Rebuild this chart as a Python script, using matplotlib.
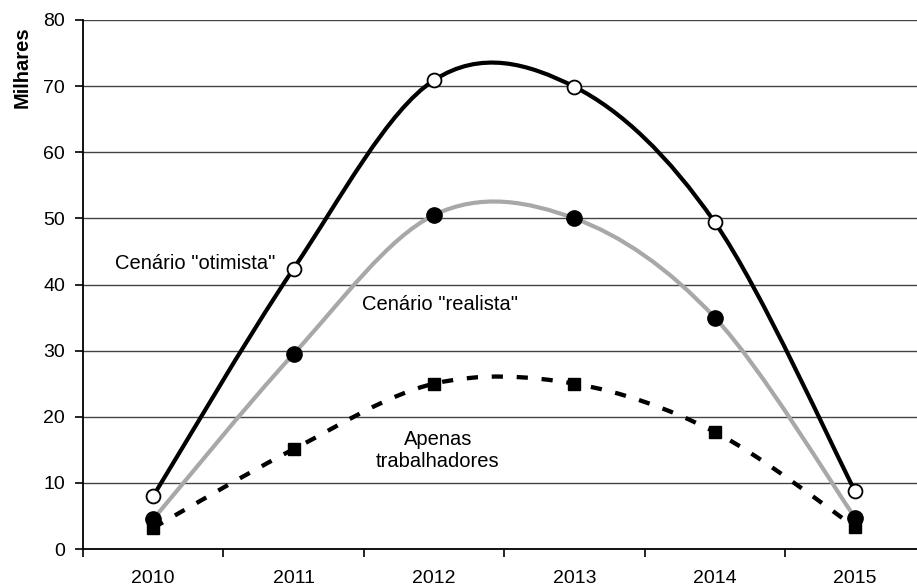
import numpy as np
import matplotlib.pyplot as plt
from matplotlib.path import Path
from matplotlib.patches import PathPatch

plt.rcParams['font.family'] = ['Liberation Sans', 'DejaVu Sans']

anos = ['2010', '2011', '2012', '2013', '2014', '2015']
otimista = [8.0, 42.4, 70.9, 69.9, 49.4, 8.7]
realista = [4.5, 29.5, 50.5, 50.0, 35.0, 4.7]
trabalhadores = [3.2, 15.1, 25.0, 25.0, 17.7, 3.3]


def curva_suave(x, y):
    # linha suavizada: segmentos de Bezier cubicos (tipo Catmull-Rom)
    pts = np.column_stack([x, y]).astype(float)
    ext = np.vstack([pts[0], pts, pts[-1]])
    verts = [pts[0]]
    codes = [Path.MOVETO]
    for i in range(1, len(pts)):
        p0, p1, p2, p3 = ext[i - 1], ext[i], ext[i + 1], ext[i + 2]
        verts += [p1 + (p2 - p0) / 6, p2 - (p3 - p1) / 6, p2]
        codes += [Path.CURVE4] * 3
    return Path(verts, codes)


x = np.arange(len(anos))

fig = plt.figure(figsize=(9.17, 5.88), dpi=100)
ax = fig.add_axes([83 / 917, 39 / 588, 842.4 / 917, 529 / 588])

# linhas
ax.add_patch(PathPatch(curva_suave(x, realista), fill=False,
                       edgecolor='#a8a8a8', lw=3.0, zorder=3))
ax.add_patch(PathPatch(curva_suave(x, trabalhadores), fill=False,
                       edgecolor='black', lw=3.1, linestyle=(0, (2.6, 3.2)),
                       capstyle='butt', zorder=3))
ax.add_patch(PathPatch(curva_suave(x, otimista), fill=False,
                       edgecolor='black', lw=3.0, zorder=4))

# marcadores
ax.plot(x, trabalhadores, linestyle='none', marker='s', ms=8.5,
        color='black', zorder=5)
ax.plot(x, realista, linestyle='none', marker='o', ms=11,
        color='black', zorder=6)
ax.plot(x, otimista, linestyle='none', marker='o', ms=10,
        mfc='white', mec='black', mew=1.3, zorder=7)

ax.text(0.298, 43.25, 'Cenário "otimista"', ha='center', va='center', fontsize=14.5)
ax.text(2.043, 36.9, 'Cenário "realista"', ha='center', va='center', fontsize=14.5)
ax.text(2.028, 14.9, 'Apenas\ntrabalhadores', ha='center', va='center',
        fontsize=14.5, linespacing=1.15)

ax.set_xlim(-0.5, 5.5)
ax.set_ylim(0, 80)
ax.set_yticks(np.arange(0, 81, 10))
ax.set_xticks(x, anos)
ax.set_xticks(np.arange(-0.5, 6, 1), minor=True)
ax.tick_params(axis='x', which='major', length=0, pad=15, labelsize=14)
ax.tick_params(axis='x', which='minor', length=6, width=1.2, direction='out')
ax.tick_params(axis='y', length=6, width=1.2, direction='out', pad=7, labelsize=14)

ax.grid(axis='y', color='#444444', lw=1.0)
ax.set_axisbelow(True)
for lado in ['top', 'right']:
    ax.spines[lado].set_visible(False)
for lado in ['left', 'bottom']:
    ax.spines[lado].set_linewidth(1.3)

fig.text(22.5 / 917, 1 - 67 / 588, 'Milhares', rotation=90, ha='center',
         va='center', fontsize=14.5, fontweight='bold')

fig.savefig('out.png', dpi=100)
